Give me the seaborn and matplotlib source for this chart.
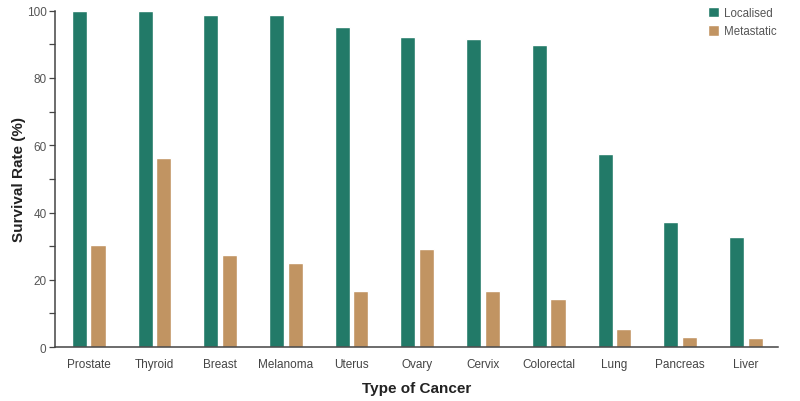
import pandas as pd
import numpy as np
import seaborn as sns
import matplotlib.pyplot as plt
from matplotlib.ticker import MultipleLocator

# ----------------- Data -----------------
cancer_types = ["Prostate", "Thyroid", "Breast", "Melanoma", "Uterus", "Ovary",
                "Cervix", "Colorectal", "Lung", "Pancreas", "Liver"]
localised = [100.0, 99.8, 98.8, 98.8, 95.0, 92.2, 91.7, 89.7, 57.3, 37.3, 32.6]
metastatic = [30.5, 56.3, 27.3, 24.9, 16.8, 29.3, 16.8, 14.3, 5.3, 3.1, 2.6]

df = pd.DataFrame({
    "Type": cancer_types * 2,
    "Rate": localised + metastatic,
    "Stage": ["Localised"] * len(cancer_types) + ["Metastatic"] * len(cancer_types),
})

# ----------------- Plot -----------------
sns.set_style("white")
plt.rcParams['font.family'] = ['Liberation Sans', 'DejaVu Sans']

fig = plt.figure(figsize=(8, 4.02), dpi=100)
ax = fig.add_axes([0.069, 0.134, 0.9035, 0.837])

sns.barplot(data=df, x="Type", y="Rate", hue="Stage",
            palette={"Localised": "#227a68", "Metastatic": "#c19462"},
            width=0.566, gap=0.19, saturation=1, ax=ax)

ax.set_xlim(-0.51, 10.49)
ax.set_ylim(0, 100)
ax.yaxis.set_major_locator(MultipleLocator(20))
ax.yaxis.set_minor_locator(MultipleLocator(10))
ax.tick_params(axis="y", which="both", direction="out", length=4.3, width=0.9,
               color="#444444", left=True, labelsize=8.5, labelcolor="#555555", pad=2)
ax.tick_params(axis="x", length=0, labelsize=8.5, labelcolor="#444444", pad=8)

for side in ["top", "right"]:
    ax.spines[side].set_visible(False)
for side in ["left", "bottom"]:
    ax.spines[side].set_color("#444444")
    ax.spines[side].set_linewidth(1.1)

ax.set_xlabel("Type of Cancer", fontsize=11, fontweight="bold", color="#222222", labelpad=8)
ax.set_ylabel("Survival Rate (%)", fontsize=11, fontweight="bold", color="#222222", labelpad=0.5)

leg = ax.legend(loc="upper right", frameon=False, fontsize=8.3, handlelength=1.0,
                handleheight=1.0, handletextpad=0.4, labelspacing=0.55,
                borderaxespad=0, bbox_to_anchor=(1.004, 1.025))
for t in leg.get_texts():
    t.set_color("#555555")

fig.savefig("out.png", dpi=100)
